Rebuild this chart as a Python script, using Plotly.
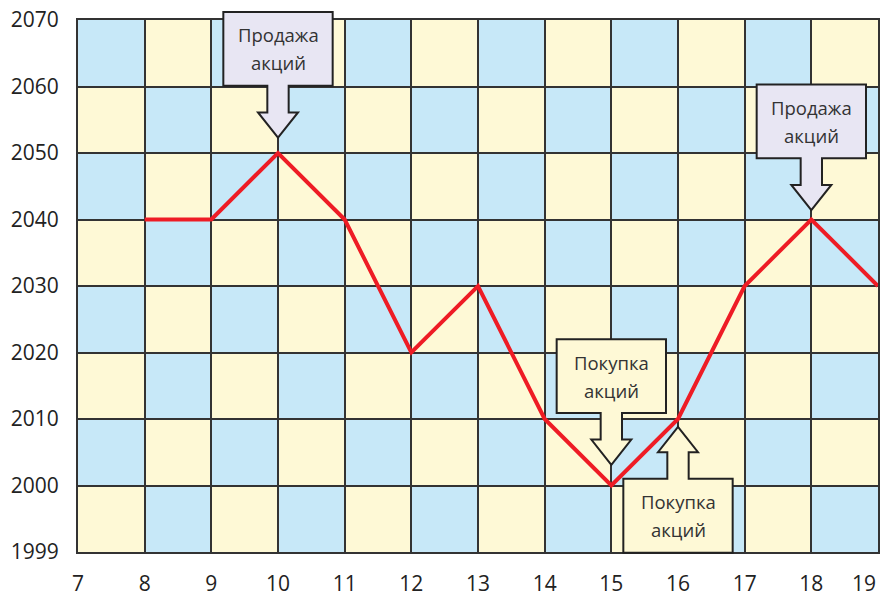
import plotly.graph_objects as go

# y axis is categorical: equal spacing per row, bottom row labelled 1999
y_labels = ['1999', '2000', '2010', '2020', '2030', '2040', '2050', '2060', '2070']
x_ticks = [7, 8, 9, 10, 11, 12, 13, 14, 15, 16, 17, 18]
days = [8, 9, 10, 11, 12, 13, 14, 15, 16, 17, 18, 19]
prices = ['2040', '2040', '2050', '2040', '2020', '2030', '2010', '2000', '2010', '2030', '2040', '2030']

# callouts: (x, price, direction, line1, line2)
callouts = [
    (10, '2050', 'down', 'Продажа', 'акций'),
    (18, '2040', 'down', 'Продажа', 'акций'),
    (15, '2000', 'down', 'Покупка', 'акций'),
    (16, '2010', 'up', 'Покупка', 'акций'),
]

BLUE = '#c7e8f8'
YELLOW = '#fef9d6'
GRID = '#333333'
nrows = len(y_labels) - 1

fig = go.Figure()

fig.add_trace(go.Scatter(
    x=days, y=prices, mode='lines',
    line=dict(color='#ee1c25', width=4),
    showlegend=False, hoverinfo='skip'
))

shapes = []
# checkerboard background
for i in range(7, 19):
    for j in range(nrows):
        col = BLUE if ((i - 7) + j) % 2 == 1 else YELLOW
        shapes.append(dict(type='rect', xref='x', yref='y', x0=i, x1=i + 1, y0=j, y1=j + 1,
                           fillcolor=col, line=dict(width=0), layer='below'))

annotations = []
gaps = [0.23, 0.14, 0.31, 0.12]
for (xc, price, direction, t1, t2), gap in zip(callouts, gaps):
    yt = y_labels.index(price)
    bw, sw, hw = 0.82, 0.16, 0.3
    head, stem, boxh = 0.38, 0.4, 1.11
    s = 1 if direction == 'down' else -1
    tip = yt + s * gap
    hb = tip + s * head
    bb = hb + s * stem
    top = bb + s * boxh
    pts = [(xc - bw, top), (xc + bw, top), (xc + bw, bb), (xc + sw, bb), (xc + sw, hb),
           (xc + hw, hb), (xc, tip), (xc - hw, hb), (xc - sw, hb), (xc - sw, bb), (xc - bw, bb)]
    path = 'M ' + ' L '.join(f'{px},{py / nrows}' for px, py in pts) + ' Z'
    fill = '#e8e6f3' if t1 == 'Продажа' else '#fef9d6'
    shapes.append(dict(type='path', xref='x', yref='paper', path=path, fillcolor=fill,
                       line=dict(color='#222222', width=2), layer='above'))
    cy = (top + bb) / 2 / nrows
    for txt, sh in ((t1, 14), (t2, -14)):
        annotations.append(dict(x=xc, y=cy, xref='x', yref='paper', text=txt, showarrow=False,
                                xanchor='center', yanchor='middle', yshift=sh,
                                font=dict(size=18.5, color='#333333', family='Open Sans')))

# last x label sits flush against the right edge
annotations.append(dict(x=days[-1], y=0, xref='x', yref='paper', text=str(days[-1]),
                        showarrow=False, xanchor='right', yanchor='top', yshift=-15, xshift=0,
                        font=dict(size=21, color='#222222', family='Open Sans')))

fig.update_layout(
    width=882, height=595,
    margin=dict(l=78, r=4, t=20, b=43),
    paper_bgcolor='white', plot_bgcolor='white',
    font=dict(family='Open Sans', size=21, color='#222222'),
    shapes=shapes, annotations=annotations,
    xaxis=dict(range=[7, 19], tickvals=x_ticks, showgrid=True, gridcolor=GRID, gridwidth=1.5,
               showline=True, linecolor=GRID, linewidth=2, mirror=True, zeroline=False,
               ticks='', ticklabelstandoff=12, automargin=False),
    yaxis=dict(type='category', categoryorder='array', categoryarray=y_labels, range=[0, nrows],
               showgrid=True, gridcolor=GRID, gridwidth=1.5,
               showline=True, linecolor=GRID, linewidth=2, mirror=True, zeroline=False,
               ticks='', ticklabelstandoff=13, automargin=False),
)

# drop the default page margin so the figure fills the window exactly
fig.write_html("out.html", config={'displayModeBar': False},
               post_script="document.body.style.margin='0';document.body.style.overflow='hidden';")
